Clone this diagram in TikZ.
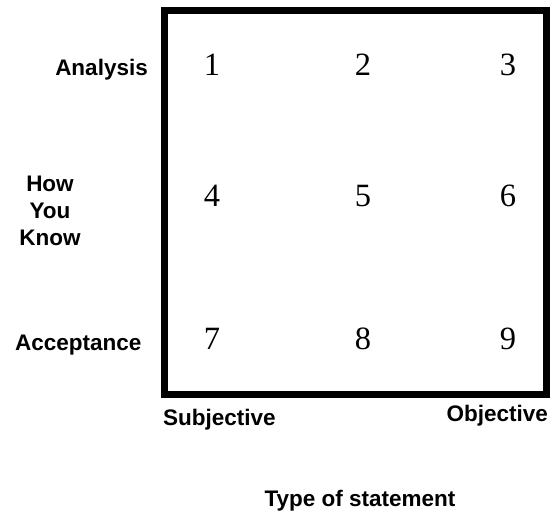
\documentclass[tikz,border=0pt]{standalone}
\usepackage{fontspec}
\usepackage{tikz}
\setmainfont{Liberation Serif}
\newfontfamily\axisfont{Liberation Sans}

\begin{document}
\begin{tikzpicture}[x=1pt,y=-1pt,
  cellnum/.style={inner sep=0pt,font=\fontsize{32.5}{36}\selectfont},
  axislabel/.style={inner sep=0pt,font=\axisfont\bfseries\fontsize{22.5}{27}\selectfont}]
\useasboundingbox (0,0) rectangle (555,513);
\draw[line width=7pt] (164.5,10.5) rectangle (546.5,394.5);

\foreach \n/\x/\y in {1/212/65, 2/363/65, 3/508/65,
                      4/212/196, 5/363/196, 6/508/196,
                      7/212/339, 8/363/339, 9/508/339}
  \node[cellnum] (cell\n) at (\x,\y) {\n};

\node[axislabel, anchor=base east] (analysis) at (148,76) {Analysis};
\node[axislabel, anchor=base] (how) at (50,192) {How};
\node[axislabel, anchor=base] (you) at (50,219) {You};
\node[axislabel, anchor=base] (know) at (50,246) {Know};
\node[axislabel, anchor=base west] (acceptance) at (15,351) {Acceptance};

\node[axislabel, anchor=base west] (subjective) at (163,425) {Subjective};
\node[axislabel, anchor=base east] (objective) at (548,422) {Objective};
\node[axislabel, anchor=base] (stmttype) at (360,507) {Type of statement};
\end{tikzpicture}
\end{document}
